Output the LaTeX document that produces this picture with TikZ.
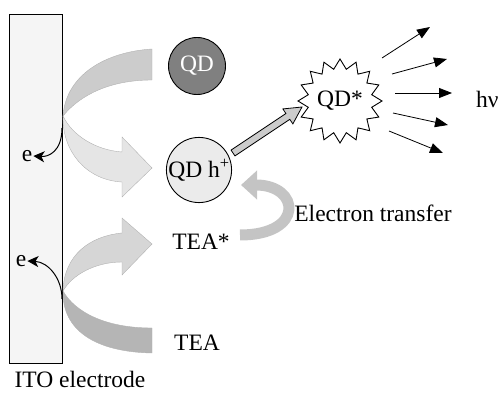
\documentclass[tikz,border=0pt]{standalone}
\usepackage{fontspec}
\setmainfont{Liberation Serif}
\usetikzlibrary{arrows.meta, shapes.geometric, calc}

\begin{document}
\begin{tikzpicture}[x=1pt, y=-1pt,
  every node/.style={font=\fontsize{23.5}{28}\selectfont},
  lbl/.style={inner sep=1pt},
  electrode/.style={rectangle, draw, line width=0.9pt, fill=black!4,
                    minimum width=53pt, minimum height=349pt},
  qdball/.style={circle, draw, line width=0.9pt, minimum size=57pt, inner sep=0pt},
  burst/.style={star, star points=16, star point ratio=1.3, draw, line width=0.9pt,
                fill=white, minimum size=74pt, inner sep=0pt},
  band/.style={draw=black!30, line width=0.4pt},
  earr/.style={-{Stealth[length=11pt,width=11pt,inset=3pt]}, line width=1pt},
  emit/.style={-{Triangle[length=13pt,width=10pt]}, line width=0.8pt},
  etarr/.style={-{Triangle[length=16pt,width=28pt]}, line width=11pt, color=black!23}
]
\useasboundingbox (0,0) rectangle (501,393);

\node[electrode] (ito) at (35.5,188.5) {};
\node[lbl] (itolbl) at (80,379) {ITO electrode};

% upper ribbon: QD -> electrode -> QD h+
\fill[band, fill=black!20] (152,49) .. controls (105,52) and (66,75) .. (63,116)
  .. controls (80,95) and (110,80) .. (152,80) -- cycle;
\fill[band, fill=black!10] (63,116) .. controls (62,150) and (85,180) .. (122,182)
  -- (122,197) -- (152,168) -- (122,137) -- (122,152)
  .. controls (95,150) and (72,135) .. (63,116) -- cycle;

% lower ribbon: TEA -> electrode -> TEA*
\fill[band, fill=black!29] (63,291) .. controls (62,330) and (95,352) .. (152,353)
  -- (152,328) .. controls (105,328) and (75,312) .. (63,291) -- cycle;
\fill[band, fill=black!16] (63,291) .. controls (64,255) and (90,236) .. (122,233)
  -- (122,218) -- (152,244) -- (122,275) -- (122,262)
  .. controls (95,262) and (72,275) .. (63,291) -- cycle;

\node[qdball, fill=black!50, text=white] (qd) at (197,66) {QD};
\node[qdball, fill=black!8] (qdh) at (199,170) {QD h\textsuperscript{+}};
\node[lbl] (teastar) at (201,242) {TEA*};
\node[lbl] (tea) at (197,343) {TEA};
\node[burst] (qdstar) at (340,101) {QD*};
\node[lbl, anchor=west] (hnu) at (475,99) {hν};
\node[lbl] (etlbl) at (373,213) {Electron transfer};

\node[lbl] (e1) at (27,156) {e};
\node[lbl] (e2) at (21,261) {e};
\coordinate (e1s) at (62,128);
\coordinate (e2s) at (62,299);
\draw[earr] (e1s) .. controls (62,152) and (48,157) .. (e1.east);
\draw[earr] (e2s) .. controls (62,278) and (48,262) .. (e2.east);

% electron transfer
\coordinate (et1) at (240,235);
\coordinate (et2) at (241,185);
\draw[etarr] (et1) .. controls (305,235) and (300,185) .. (et2);

% excitation arrow
\coordinate (ga) at (233,153);
\coordinate (gb) at (302,107);
\coordinate (gc) at ($(gb)!17pt!(ga)$);
\filldraw[fill=black!20, line width=0.8pt]
  ($(ga)!3.5pt!90:(gb)$) -- ($(gc)!3.5pt!-90:(ga)$) -- ($(gc)!9pt!-90:(ga)$) -- (gb)
  -- ($(gc)!9pt!90:(ga)$) -- ($(gc)!3.5pt!90:(ga)$) -- ($(ga)!3.5pt!-90:(gb)$) -- cycle;

% emission
\foreach \sx/\sy/\dx/\dy in {42/-43/48/-31, 52/-27/55/-15, 55/-8/57/0, 53/12/55/12, 49/30/54/22}
  \draw[emit] ($(qdstar.center)+(\sx,\sy)$) -- ++(\dx,\dy);
\end{tikzpicture}
\end{document}
